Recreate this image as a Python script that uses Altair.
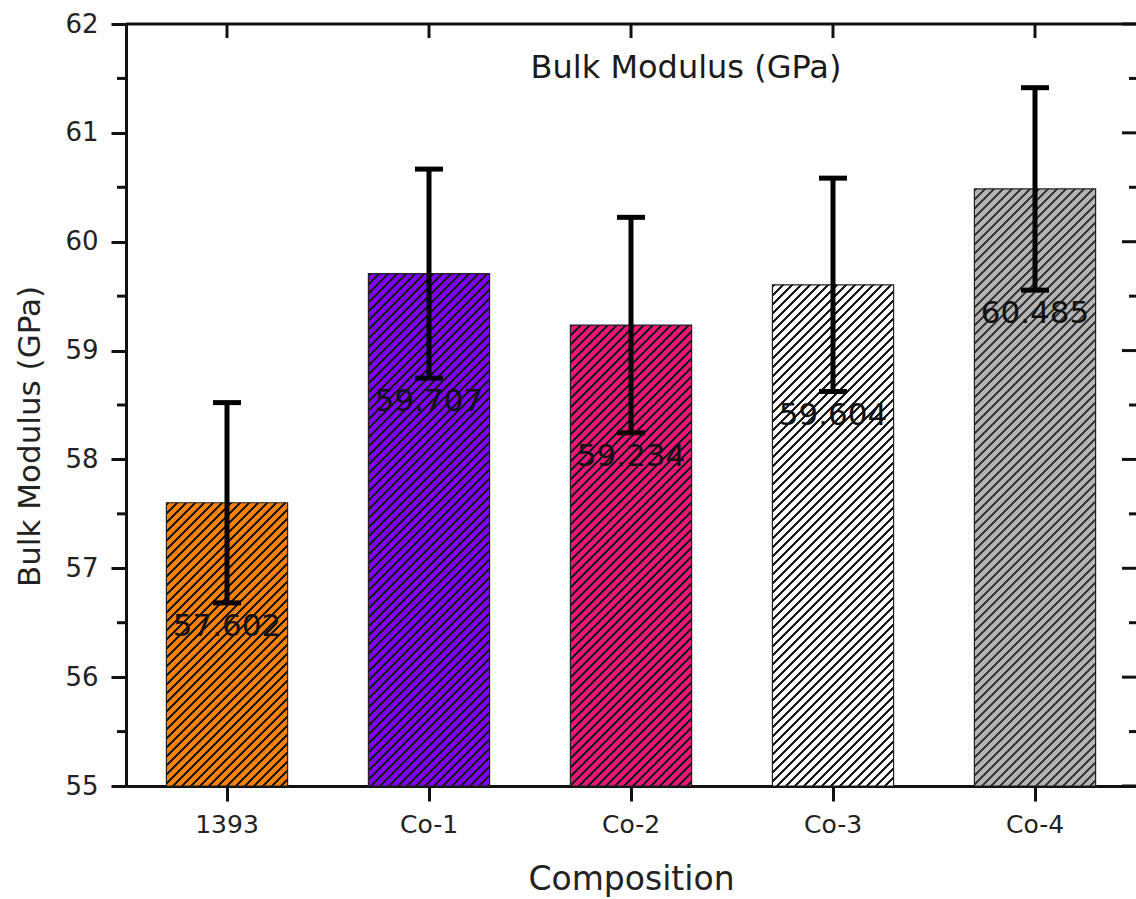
import altair as alt
import pandas as pd

# ---- data ----
categories = ["1393", "Co-1", "Co-2", "Co-3", "Co-4"]
values = [57.602, 59.707, 59.234, 59.604, 60.485]
errors = [0.92, 0.96, 0.99, 0.98, 0.93]
fill_colors = ["#FF8000", "#7F00FF", "#F0147A", "#FFFFFF", "#B4B4B4"]
hatch_colors = ["#1a1a1a", "#1a1a1a", "#1a1a1a", "#1a1a1a", "#3a3a3a"]
y_major = [55, 56, 57, 58, 59, 60, 61, 62]
y_minor = [55.5, 56.5, 57.5, 58.5, 59.5, 60.5, 61.5]

W, H = 1010, 762
Y_MIN, Y_MAX = 55, 62
FONT = "DejaVu Sans"

df = pd.DataFrame({"cat": categories, "value": values, "err": errors})
df["lo"] = df["value"] - df["err"]
df["hi"] = df["value"] + df["err"]
df["label"] = df["value"].map(lambda v: f"{v:.3f}")

major_df = pd.DataFrame({"t": y_major})
minor_df = pd.DataFrame({"t": y_minor})

PAD_INNER, PAD_OUTER = 0.4, 0.2
step = W / (len(categories) - PAD_INNER + 2 * PAD_OUTER)
bar_w = step * (1 - PAD_INNER)


def hatch(color, ink, w, h, period=9.0, dark=0.36):
    """Linear gradient (bbox units) producing '/' diagonal hatching at 45 deg."""
    L = w + h
    k = L / (w * w + h * h)
    stops = []
    i = 0
    while i * period / L < 1:
        a = i * period / L
        b = min((i * period + period * dark) / L, 1)
        c = min((i + 1) * period / L, 1)
        stops += [
            {"offset": a, "color": ink},
            {"offset": b, "color": ink},
            {"offset": b, "color": color},
            {"offset": c, "color": color},
        ]
        i += 1
    return {"gradient": "linear", "x1": 0, "y1": 0, "x2": k * w, "y2": k * h, "stops": stops}


x_scale = alt.Scale(domain=categories, paddingInner=PAD_INNER, paddingOuter=PAD_OUTER)
y_scale = alt.Scale(domain=[Y_MIN, Y_MAX], nice=False, zero=False)

x_axis = alt.Axis(
    title="Composition", labelAngle=0, labelFont=FONT, labelFontSize=25, labelColor="#222",
    labelPadding=11, tickSize=15, tickWidth=3, tickColor="#111", domainWidth=3, domainColor="#111",
    titleFont=FONT, titleFontSize=33, titleFontWeight="normal", titleColor="#222",
    titleY=103, titleBaseline="alphabetic", grid=False,
)
y_axis = alt.Axis(
    title="Bulk Modulus (GPa)", values=y_major, format="d", labelFont=FONT, labelFontSize=26,
    labelColor="#222", labelPadding=13, tickSize=15, tickWidth=3, tickColor="#111",
    domainWidth=3, domainColor="#111", titleFont=FONT, titleFontSize=31,
    titleFontWeight="normal", titleColor="#222", titleX=-96, titleY=412,
    titleAlign="center", titleBaseline="middle", grid=False,
)


def X(field="cat"):
    return alt.X(f"{field}:N", scale=x_scale, sort=categories, axis=x_axis)


def Y(field):
    return alt.Y(f"{field}:Q", scale=y_scale, axis=y_axis)


base = alt.Chart(df)
layers = []

for cat, v, col, ink in zip(categories, values, fill_colors, hatch_colors):
    h = (v - Y_MIN) / (Y_MAX - Y_MIN) * H
    layers.append(
        base.transform_filter(alt.datum.cat == cat)
        .mark_bar(fill=hatch(col, ink, bar_w, h), stroke="#222", strokeWidth=1.2)
        .encode(x=X(), y=Y("value"), y2=alt.datum(Y_MIN))
    )

# error bars
layers.append(base.mark_rule(color="#000", strokeWidth=5).encode(x=X(), y=Y("lo"), y2="hi:Q"))
layers.append(base.mark_tick(color="#000", thickness=5, size=28, orient="horizontal", opacity=1).encode(x=X(), y=Y("lo")))
layers.append(base.mark_tick(color="#000", thickness=5, size=28, orient="horizontal", opacity=1).encode(x=X(), y=Y("hi")))

# value labels
layers.append(
    base.mark_text(font=FONT, fontSize=31, color="#111", baseline="top", dy=9).encode(
        x=X(), y=Y("lo"), text="label:N"
    )
)

# left minor ticks
layers.append(
    alt.Chart(minor_df).mark_rule(color="#111", strokeWidth=3).encode(
        y=Y("t"), x=alt.value(-9), x2=alt.value(0)
    )
)
# right inward ticks
layers.append(
    alt.Chart(major_df).mark_rule(color="#111", strokeWidth=3).encode(
        y=Y("t"), x=alt.value(W - 14), x2=alt.value(W)
    )
)
layers.append(
    alt.Chart(minor_df).mark_rule(color="#111", strokeWidth=3).encode(
        y=Y("t"), x=alt.value(W - 7), x2=alt.value(W)
    )
)
# top border and top inward ticks
layers.append(
    alt.Chart(major_df.head(1)).mark_rule(color="#111", strokeWidth=3).encode(
        x=alt.value(0), x2=alt.value(W), y=alt.value(0)
    )
)
layers.append(
    base.mark_rule(color="#111", strokeWidth=3).encode(x=X(), y=alt.value(0), y2=alt.value(14))
)
# inner title
layers.append(
    alt.Chart(major_df.head(1)).mark_text(
        font=FONT, fontSize=32, color="#1a1a1a", align="center", baseline="middle"
    ).encode(x=alt.value(560), y=alt.value(44), text=alt.value("Bulk Modulus (GPa)"))
)

chart = (
    alt.layer(*layers)
    .properties(
        width=W, height=H,
        autosize=alt.AutoSizeParams(type="none"),
        padding={"left": 126, "top": 24, "right": 0, "bottom": 113},
        background="white",
    )
    .configure_view(stroke=None)
)

chart.save("out.html", embed_options={"renderer": "svg", "actions": False})
